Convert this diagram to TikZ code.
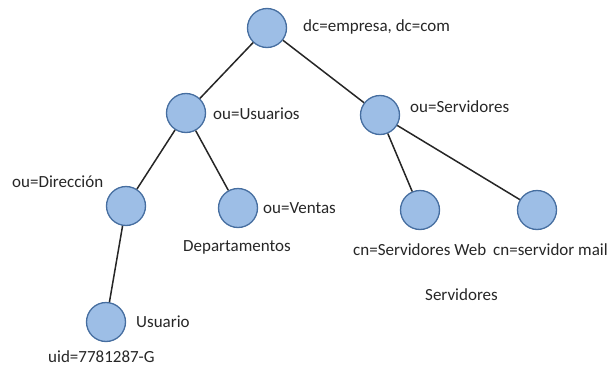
\documentclass[tikz,border=0pt]{standalone}
\usepackage{fontspec}
\setmainfont{Carlito}
\definecolor{nodefill}{RGB}{157,190,230}
\definecolor{nodeedge}{RGB}{70,110,160}
\begin{document}
\begin{tikzpicture}[x=1pt,y=-1pt,
  entry/.style={circle,draw=nodeedge,fill=nodefill,line width=1.3pt,minimum size=39pt,inner sep=0pt},
  tag/.style={anchor=base west,inner sep=0pt,text=black!85,font=\fontsize{17}{20}\selectfont},
  link/.style={draw=black!85,line width=1.5pt}]
\useasboundingbox (0,0) rectangle (611,367);
% directory entries
\node[entry] (root) at (267,28) {};
\node[entry] (usr) at (186,113) {};
\node[entry] (srv) at (380,115) {};
\node[entry] (dir) at (126,206) {};
\node[entry] (ven) at (238,208) {};
\node[entry] (web) at (420,210) {};
\node[entry] (mail) at (537,210) {};
\node[entry] (uid) at (106,322) {};
% tree links
\draw[link] (root) -- (usr);
\draw[link] (root) -- (srv);
\draw[link] (usr) -- (dir);
\draw[link] (usr) -- (ven);
\draw[link] (dir) -- (uid);
\draw[link] (srv) -- (web);
\draw[link] (srv) -- (mail);
% labels
\node[tag] (troot) at (303,31) {dc=empresa, dc=com};
\node[tag] (tusr) at (213,119) {ou=Usuarios};
\node[tag] (tsrv) at (410,112) {ou=Servidores};
\node[tag] (tdir) at (12,187) {ou=Dirección};
\node[tag] (tven) at (263,213) {ou=Ventas};
\node[tag] (tdep) at (183,251) {Departamentos};
\node[tag] (tweb) at (353,255) {cn=Servidores Web};
\node[tag] (tmail) at (493,255) {cn=servidor mail};
\node[tag] (tsrvs) at (425,300) {Servidores};
\node[tag] (tuser) at (136,327) {Usuario};
\node[tag] (tuid) at (48,362) {uid=7781287-G};
\end{tikzpicture}
\end{document}
